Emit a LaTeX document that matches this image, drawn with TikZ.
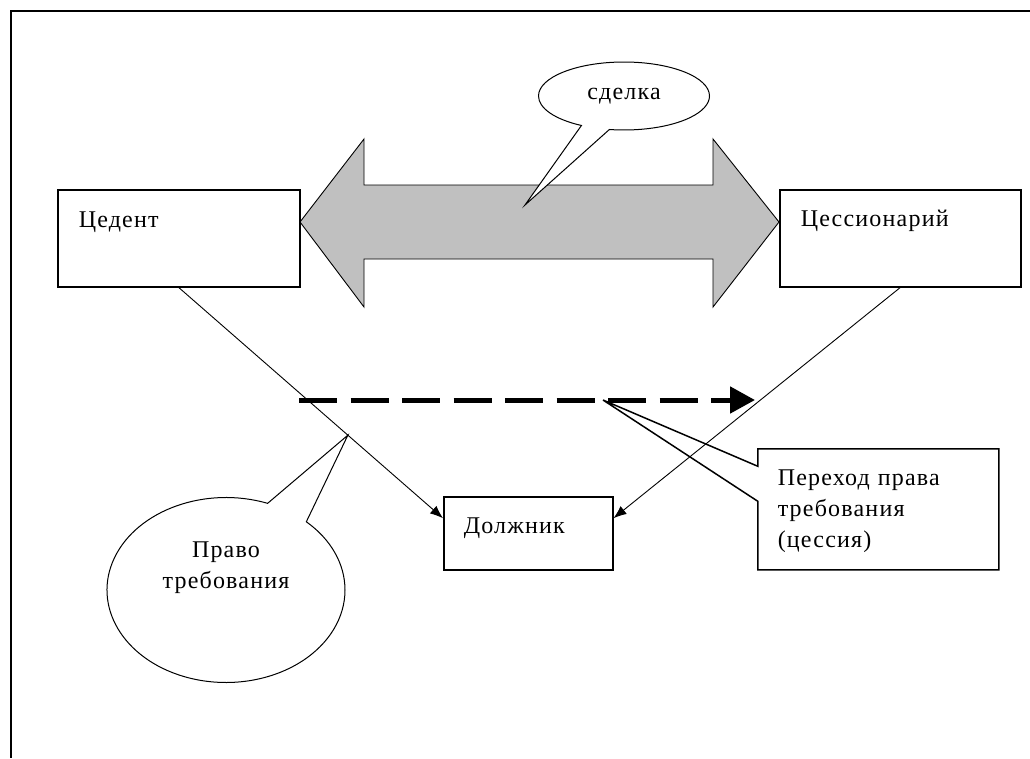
\documentclass[tikz,border=0pt]{standalone}
\usepackage{fontspec}
\setmainfont{Liberation Serif}[LetterSpace=5]
\usetikzlibrary{positioning}
\usetikzlibrary{arrows.meta, calc, shapes.callouts}
\definecolor{silver}{RGB}{192,192,192}

\begin{document}
\begin{tikzpicture}[x=1pt, y=-1pt,
       every node/.style={font=\fontsize{24}{31}\selectfont},
       frame/.style={line width=1.6pt},
       box/.style={draw, line width=1.5pt, fill=white, anchor=north west, inner ysep=0pt},
       bubble/.style={ellipse callout, draw, line width=1pt, fill=white, inner sep=2pt},
       dealarrow/.style={draw, line width=0.9pt, fill=silver, line join=miter},
       link/.style={line width=0.9pt, -{Latex[length=13pt, width=10pt]}},
       cessionline/.style={line width=5pt, dash pattern=on 38pt off 13.5pt, -{Triangle[length=25pt, width=26pt]}}]

       \useasboundingbox (0,0) rectangle (1030,758);
       \draw[frame] (1030,11) -- (11,11) -- (11,758);

       % wide two-headed arrow
       \draw[dealarrow] (300,222) -- (364,139) -- (364,185) -- (713,185) -- (713,139)
              -- (779,222) -- (713,307) -- (713,259) -- (364,259) -- (364,307) -- cycle;

       \node[box, text width=200pt, inner xsep=21pt, text height=38pt, text depth=59pt] (cedent) at (57,189) {Цедент};
       \node[box, text width=199pt, inner xsep=21pt, text height=37pt, text depth=60pt] (cessionary) at (779,189) {Цессионарий};
       \node[box, text width=129pt, inner xsep=20pt, text height=37pt, text depth=36pt] (debtor) at (443,496) {Должник};

       \coordinate (deal) at (525,205);
       \coordinate (dashstart) at (299,400);
       \coordinate (dashend) at (755,400);
       \coordinate (cession) at (603,400);
       \coordinate (claim) at ($(cedent.south)!0.64!(debtor.170)$);

       % callouts
       \node[bubble,
              minimum width=171pt,
              minimum height=68pt,
              callout absolute pointer={(deal)},
              callout pointer arc=20] (dealnote) at (624,96) {сделка};
       \node[bubble,
              minimum width=238pt,
              minimum height=185pt,
              text depth=55pt,
              callout absolute pointer={(claim)},
              callout pointer arc=22] (claimnote) at (226,590) {\begin{tabular}[b]{c}Право\\требования\end{tabular}};
       \node[rectangle callout,
              draw,
              line width=1.5pt,
              fill=white,
              anchor=north west,
              align=left,
              text width=201pt,
              inner xsep=20pt,
              inner ysep=0pt,
              text height=37pt,
              text depth=84pt,
              callout absolute pointer={(cession)},
              callout pointer width=35pt] (transfernote) at (757,448) {Переход права\\требования\\(цессия)};

       \draw[link] (cedent.south) -- (debtor.170);
       \draw[link] (cessionary.south) -- (debtor.10);
       \draw[cessionline] (dashstart) -- (dashend);

\end{tikzpicture}
\end{document}
